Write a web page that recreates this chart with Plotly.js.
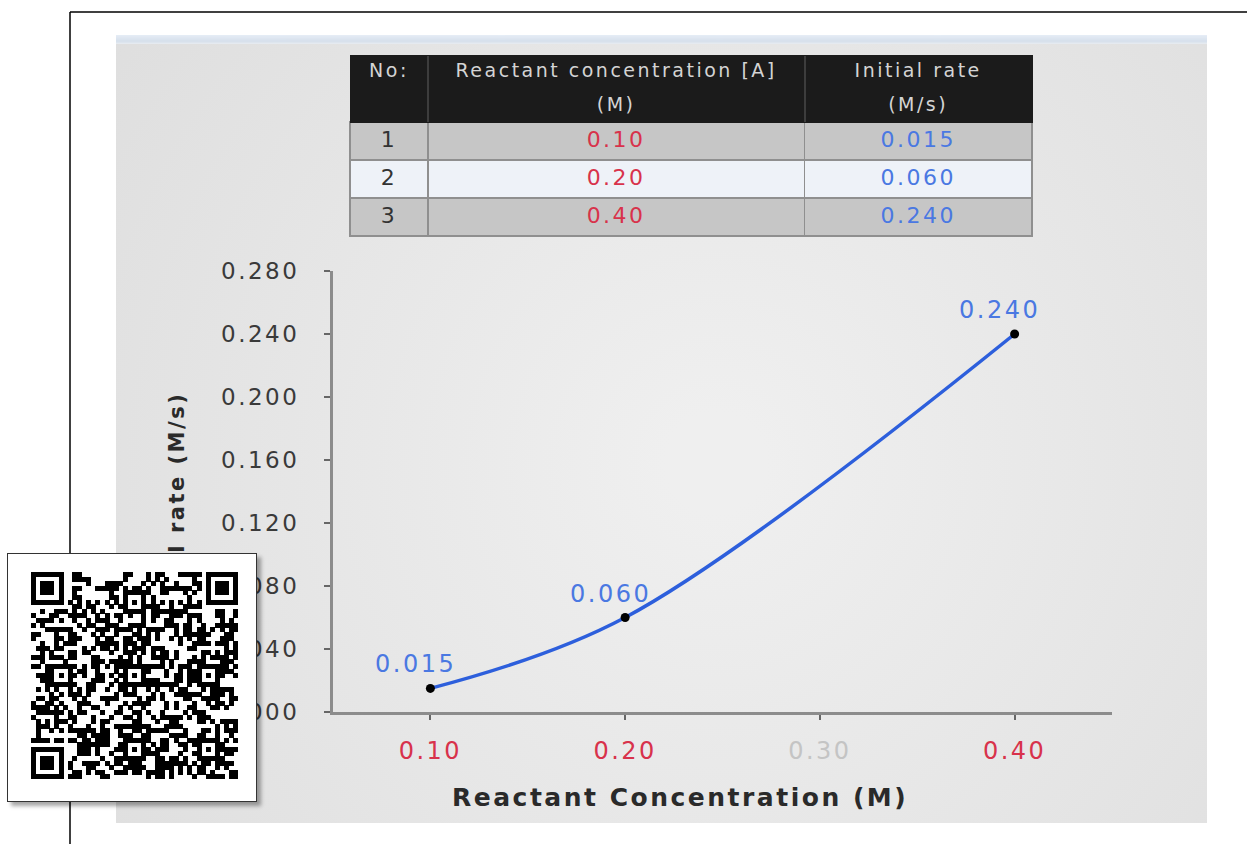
<!DOCTYPE html>
<html><head><meta charset="utf-8">
<script src="https://cdn.plot.ly/plotly-3.0.1.min.js"></script>
<style>
html,body{margin:0;padding:0;background:#fff;}
#wrap{position:relative;width:1247px;height:844px;overflow:hidden;}
#chart{width:1247px;height:844px;}
svg text{letter-spacing:2.5px;}
#qr{position:absolute;left:7px;top:553px;width:248px;height:247px;background:#fff;border:1.5px solid #333;box-shadow:4px 4px 4px rgba(0,0,0,0.35);}
#qr canvas{position:absolute;left:23px;top:18px;}
</style></head>
<body><div id="wrap"><div id="chart"></div><div id="qr"><canvas id="qrc" width="207" height="207"></canvas></div></div>
<script>
// ---- data ----
const runNo = ['1', '2', '3'];
const concentration = [0.10, 0.20, 0.40];
const initialRate = [0.015, 0.060, 0.240];
const concLabels = ['0.10', '0.20', '0.40'];
const rateLabels = ['0.015', '0.060', '0.240'];
const tableHeaders = [['No:', ''], ['Reactant concentration [A]', '(M)'], ['Initial rate', '(M/s)']];
const xTickVals = [0.10, 0.20, 0.30, 0.40];
const xTickLabels = ['0.10', '0.20', '0.30', '0.40'];
const yTickVals = [0, 0.04, 0.08, 0.12, 0.16, 0.20, 0.24, 0.28];
const yTickLabels = ['0.000', '0.040', '0.080', '0.120', '0.160', '0.200', '0.240', '0.280'];
const xTitle = 'Reactant Concentration (M)';
const yTitle = 'Initial rate (M/s)';

// ---- helpers ----
const W = 1247, H = 844;
const px = v => v / W, py = v => 1 - v / H;
const FONT = 'DejaVu Sans, sans-serif';
const RED = '#d8324b', BLUE = '#4a78e2', LINEBLUE = '#2d5fdc';

// panel gradient background
function panelImage() {
  const c = document.createElement('canvas');
  c.width = 1091; c.height = 780;
  const g = c.getContext('2d');
  const grd = g.createRadialGradient(600, 420, 50, 600, 420, 760);
  grd.addColorStop(0, '#efefef');
  grd.addColorStop(1, '#dedede');
  g.fillStyle = grd; g.fillRect(0, 0, c.width, c.height);
  return c.toDataURL();
}
function bandImage() {
  const c = document.createElement('canvas');
  c.width = 10; c.height = 10;
  const g = c.getContext('2d');
  const grd = g.createLinearGradient(0, 0, 0, 10);
  grd.addColorStop(0, '#e6edf6');
  grd.addColorStop(0.7, '#d6e0ec');
  grd.addColorStop(1, '#e9edf2');
  g.fillStyle = grd; g.fillRect(0, 0, 10, 10);
  return c.toDataURL();
}

// decorative QR-like pattern for the overlay card
(function drawQR() {
  const N = 45, m = 4.6;
  const cv = document.getElementById('qrc'), g = cv.getContext('2d');
  g.fillStyle = '#fff'; g.fillRect(0, 0, cv.width, cv.height);
  const grid = [];
  for (let r = 0; r < N; r++) { grid.push([]); for (let c = 0; c < N; c++) {
    let h = Math.imul(r * 374761393 + c * 668265263, 1274126177);
    h ^= h >>> 13; h = Math.imul(h, 1103515245); h ^= h >>> 16;
    grid[r].push((h & 7) < 4 ? 1 : 0);
  } }
  const reserved = (r, c) => (r < 8 && c < 8) || (r < 8 && c >= N - 8) || (r >= N - 8 && c < 8);
  for (let r = 0; r < N; r++) for (let c = 0; c < N; c++) {
    if (reserved(r, c)) grid[r][c] = 0;
    if ((r === 6 || c === 6) && !reserved(r, c)) grid[r][c] = ((r + c) % 2 === 0) ? 1 : 0;
  }
  function finder(r0, c0) {
    for (let r = 0; r < 7; r++) for (let c = 0; c < 7; c++) {
      const edge = r === 0 || r === 6 || c === 0 || c === 6;
      const core = r >= 2 && r <= 4 && c >= 2 && c <= 4;
      grid[r0 + r][c0 + c] = (edge || core) ? 1 : 0;
    }
  }
  finder(0, 0); finder(0, N - 7); finder(N - 7, 0);
  const al = [6, 22, 38];
  al.forEach(ar => al.forEach(ac => {
    if ((ar === 6 && ac === 6) || (ar === 6 && ac === 38) || (ar === 38 && ac === 6)) return;
    for (let r = -2; r <= 2; r++) for (let c = -2; c <= 2; c++) {
      const edge = Math.abs(r) === 2 || Math.abs(c) === 2;
      grid[ar + r][ac + c] = (edge || (r === 0 && c === 0)) ? 1 : 0;
    }
  }));
  g.fillStyle = '#000';
  for (let r = 0; r < N; r++) for (let c = 0; c < N; c++)
    if (grid[r][c]) g.fillRect(Math.round(c * m), Math.round(r * m), Math.ceil(m), Math.ceil(m));
})();

const xTickText = xTickVals.map((v, i) => {
  const measured = concentration.some(c => Math.abs(c - v) < 1e-9);
  return '<span style="color:' + (measured ? RED : '#c4c4c4') + '">' + xTickLabels[i] + '</span>';
});

const rowFills = ['#c6c6c6', '#eef2f8', '#c6c6c6'];

const traces = [
  {
    type: 'scatter', x: concentration, y: initialRate, mode: 'lines+markers',
    line: { color: LINEBLUE, width: 3.5, shape: 'spline', smoothing: 1 },
    marker: { color: '#000', size: 9 }, cliponaxis: false, hoverinfo: 'none'
  },
  {
    type: 'table',
    domain: { x: [px(350), px(1033)], y: [py(245), py(55)] },
    columnwidth: [78, 377, 228],
    header: {
      values: tableHeaders, align: 'center', height: 33.5,
      fill: { color: '#1b1b1b' }, line: { color: '#1b1b1b', width: 1 },
      font: { family: FONT, size: 19, color: '#d4d4d4' }
    },
    cells: {
      values: [runNo, concLabels, rateLabels], align: 'center', height: 38,
      fill: { color: [rowFills, rowFills, rowFills] },
      line: { color: '#8f8f8f', width: 1.5 },
      font: { family: FONT, size: 22, color: ['#333333', RED, BLUE] }
    }
  }
];

const annotations = concentration.map((x, i) => ({
  x: x, y: initialRate[i], xref: 'x', yref: 'y', text: rateLabels[i], showarrow: false,
  xshift: -15, yshift: 24, font: { family: FONT, size: 24, color: BLUE }
}));
annotations.push({
  x: px(680), y: py(797), xref: 'paper', yref: 'paper', text: '<b>' + xTitle + '</b>', showarrow: false,
  xanchor: 'center', yanchor: 'middle', font: { family: FONT, size: 25, color: '#2a2a2a' }
});
annotations.push({
  x: px(177), y: py(511), xref: 'paper', yref: 'paper', text: '<b>' + yTitle + '</b>', showarrow: false,
  textangle: -90, xanchor: 'center', yanchor: 'middle', font: { family: FONT, size: 21, color: '#2a2a2a' }
});

const layout = {
  width: W, height: H, margin: { l: 0, r: 0, t: 0, b: 0 },
  paper_bgcolor: '#ffffff', plot_bgcolor: 'rgba(0,0,0,0)', showlegend: false,
  xaxis: {
    domain: [px(333), px(1112)], range: [0.05, 0.45],
    showline: true, linecolor: '#8c8c8c', linewidth: 3,
    ticks: 'outside', ticklen: 5, tickwidth: 2, tickcolor: '#666',
    tickvals: xTickVals, ticktext: xTickText, ticklabelstandoff: 10,
    tickfont: { family: FONT, size: 24, color: RED },
    showgrid: false, zeroline: false, fixedrange: true
  },
  yaxis: {
    domain: [py(712), py(271)], range: [0, 0.28],
    showline: true, linecolor: '#8c8c8c', linewidth: 3,
    ticks: 'outside', ticklen: 6, tickwidth: 2, tickcolor: '#666',
    tickvals: yTickVals, ticktext: yTickLabels, ticklabelstandoff: 20,
    tickfont: { family: FONT, size: 23, color: '#3a3a3a' },
    showgrid: false, zeroline: false, fixedrange: true
  },
  images: [
    { source: panelImage(), xref: 'paper', yref: 'paper',
      x: px(116), y: py(43), sizex: 1091 / W, sizey: 780 / H,
      xanchor: 'left', yanchor: 'top', sizing: 'stretch', layer: 'below' },
    { source: bandImage(), xref: 'paper', yref: 'paper',
      x: px(116), y: py(35), sizex: 1091 / W, sizey: 9 / H,
      xanchor: 'left', yanchor: 'top', sizing: 'stretch', layer: 'below' }
  ],
  shapes: [
    { type: 'line', xref: 'paper', yref: 'paper', x0: px(70), x1: 1, y0: py(12), y1: py(12), line: { color: '#000', width: 1.5 }, layer: 'below' },
    { type: 'line', xref: 'paper', yref: 'paper', x0: px(70), x1: px(70), y0: py(12), y1: 0, line: { color: '#000', width: 1.5 }, layer: 'below' },
    { type: 'line', xref: 'paper', yref: 'paper', x0: px(428), x1: px(428), y0: py(56), y1: py(122), line: { color: '#4a4a4a', width: 1.5 }, layer: 'above' },
    { type: 'line', xref: 'paper', yref: 'paper', x0: px(805), x1: px(805), y0: py(56), y1: py(122), line: { color: '#4a4a4a', width: 1.5 }, layer: 'above' }
  ],
  annotations: annotations
};

Plotly.newPlot('chart', traces, layout, { staticPlot: true, displayModeBar: false });
</script>
</body></html>
